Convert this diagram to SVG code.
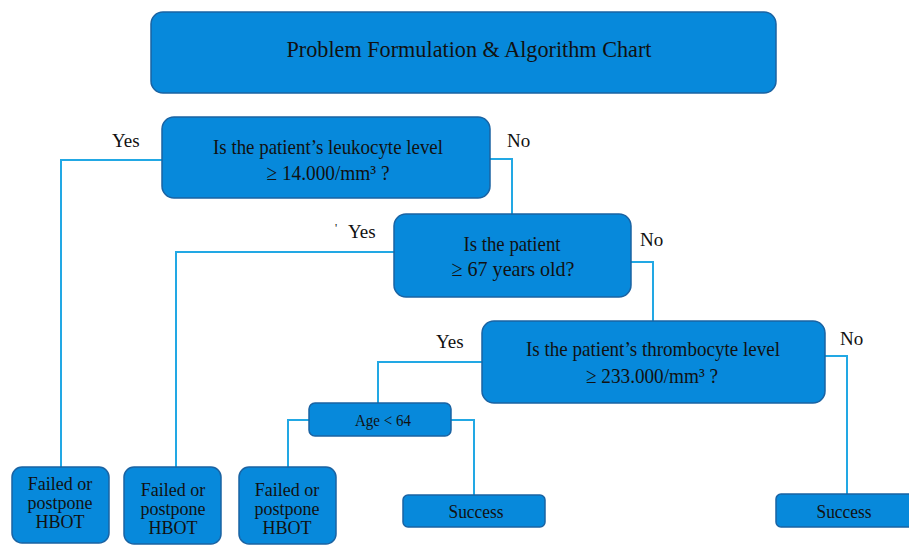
<svg xmlns="http://www.w3.org/2000/svg" width="909" height="545" viewBox="0 0 909 545">
<style>
.box{fill:#0789db;stroke:#1a63a3;stroke-width:1.5}
.t{font-family:"Liberation Serif","Times New Roman",serif;fill:#111;text-anchor:middle}
.lbl{font-family:"Liberation Serif","Times New Roman",serif;fill:#111;font-size:19px}
.c{fill:none;stroke:#22a8e4;stroke-width:2}
</style>
<rect width="909" height="545" fill="#fff"/>
<g id="connectors">
<polyline class="c" points="162,160 61,160 61,468"/>
<polyline class="c" points="490,159 512,159 512,214"/>
<polyline class="c" points="394,252 176,252 176,467"/>
<polyline class="c" points="631,262 653,262 653,321"/>
<polyline class="c" points="482,362 378,362 378,403"/>
<polyline class="c" points="825,356 847,356 847,495"/>
<polyline class="c" points="309,420 288,420 288,467"/>
<polyline class="c" points="451,420 474,420 474,495"/>
</g>
<g id="labels">
<text class="lbl" x="112" y="147">Yes</text>
<text class="lbl" x="507" y="147">No</text>
<text class="lbl" x="335" y="232" style="font-size:12px">'</text>
<text class="lbl" x="348" y="238">Yes</text>
<text class="lbl" x="640" y="246">No</text>
<text class="lbl" x="436" y="348">Yes</text>
<text class="lbl" x="840" y="345">No</text>
</g>
<g id="title">
<rect class="box" x="151" y="12" width="625" height="81" rx="12"/>
<text class="t" x="469" y="57" font-size="23" textLength="365" lengthAdjust="spacingAndGlyphs">Problem Formulation &amp; Algorithm Chart</text>
</g>
<g id="q1">
<rect class="box" x="162" y="117" width="328" height="81" rx="12"/>
<text class="t" x="328" y="154" font-size="22" textLength="230" lengthAdjust="spacingAndGlyphs">Is the patient’s leukocyte level</text>
<text class="t" x="328" y="180" font-size="22" textLength="123" lengthAdjust="spacingAndGlyphs">≥ 14.000/mm³ ?</text>
</g>
<g id="q2">
<rect class="box" x="394" y="214" width="237" height="83" rx="12"/>
<text class="t" x="512" y="251" font-size="22" textLength="97" lengthAdjust="spacingAndGlyphs">Is the patient</text>
<text class="t" x="513" y="276" font-size="22" textLength="123" lengthAdjust="spacingAndGlyphs">≥ 67 years old?</text>
</g>
<g id="q3">
<rect class="box" x="482" y="321" width="343" height="82" rx="12"/>
<text class="t" x="653" y="356" font-size="22" textLength="254" lengthAdjust="spacingAndGlyphs">Is the patient’s thrombocyte level</text>
<text class="t" x="652" y="383" font-size="22" textLength="132" lengthAdjust="spacingAndGlyphs">≥ 233.000/mm³ ?</text>
</g>
<g id="age">
<rect class="box" x="309" y="403" width="142" height="33" rx="6"/>
<text class="t" x="383" y="426" font-size="17" textLength="56" lengthAdjust="spacingAndGlyphs">Age &lt; 64</text>
</g>
<g id="fail1">
<rect class="box" x="12" y="467" width="97" height="76" rx="10"/>
<text class="t" x="60" y="490" font-size="18">Failed or</text>
<text class="t" x="60" y="509" font-size="18">postpone</text>
<text class="t" x="60" y="528" font-size="18">HBOT</text>
</g>
<g id="fail2">
<rect class="box" x="124" y="467" width="97" height="77" rx="10"/>
<text class="t" x="173" y="496" font-size="18">Failed or</text>
<text class="t" x="173" y="515" font-size="18">postpone</text>
<text class="t" x="173" y="534" font-size="18">HBOT</text>
</g>
<g id="fail3">
<rect class="box" x="239" y="467" width="97" height="77" rx="10"/>
<text class="t" x="287" y="496" font-size="18">Failed or</text>
<text class="t" x="287" y="515" font-size="18">postpone</text>
<text class="t" x="287" y="534" font-size="18">HBOT</text>
</g>
<g id="success1">
<rect class="box" x="403" y="495" width="142" height="32" rx="5"/>
<text class="t" x="476" y="518" font-size="19" textLength="55" lengthAdjust="spacingAndGlyphs">Success</text>
</g>
<g id="success2">
<rect class="box" x="776" y="494" width="140" height="33" rx="5"/>
<text class="t" x="844" y="518" font-size="19" textLength="55" lengthAdjust="spacingAndGlyphs">Success</text>
</g>
</svg>
